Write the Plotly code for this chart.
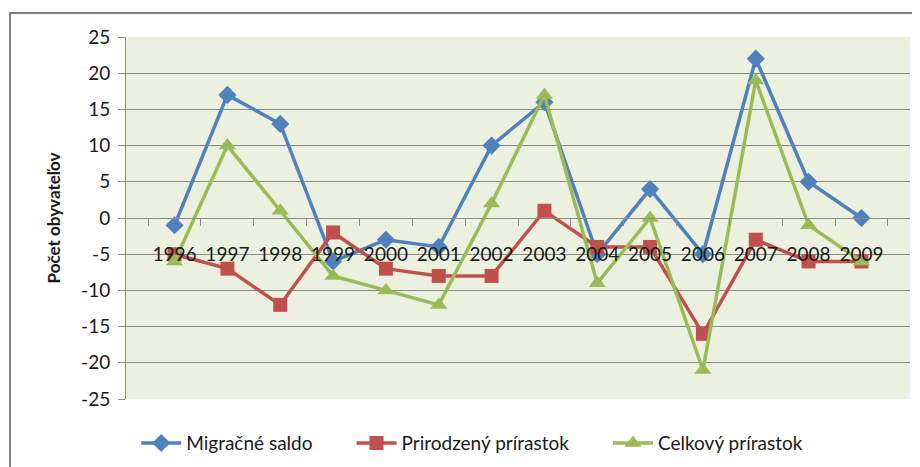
import plotly.graph_objects as go

years = ["1996", "1997", "1998", "1999", "2000", "2001", "2002",
         "2003", "2004", "2005", "2006", "2007", "2008", "2009"]
migracne_saldo = [-1, 17, 13, -6, -3, -4, 10, 16, -5, 4, -5, 22, 5, 0]
prirodzeny_prirastok = [-5, -7, -12, -2, -7, -8, -8, 1, -4, -4, -16, -3, -6, -6]
celkovy_prirastok = [-6, 10, 1, -8, -10, -12, 2, 17, -9, 0, -21, 19, -1, -6]
y_ticks = [-25, -20, -15, -10, -5, 0, 5, 10, 15, 20, 25]
y_tick_labels = ["-25", "-20", "-15", "-10", "-5", "0", "5", "10", "15", "20", "25"]

FONT = "Lato, 'Open Sans', sans-serif"
GRID = "#8c8c8c"
PAD = "\u00a0" * 7  # extra room between legend entries

series = [
    ("Migračné saldo", migracne_saldo, "#4F81BD", "diamond", 14),
    ("Prirodzený prírastok", prirodzeny_prirastok, "#C0504D", "square", 14),
    ("Celkový prírastok", celkovy_prirastok, "#9BBB59", "triangle-up", 15),
]

fig = go.Figure()
for name, values, color, symbol, size in series:
    fig.add_scatter(
        x=years, y=values, name=name + PAD, mode="lines+markers",
        line=dict(color=color, width=3.5),
        marker=dict(symbol=symbol, size=size, color=color),
        cliponaxis=False,
    )

# page body adds an 8px margin, so the figure is 8px smaller each way
fig.update_layout(
    width=912, height=459,
    margin=dict(l=118, r=10, t=29, b=68, autoexpand=False),
    paper_bgcolor="white",
    plot_bgcolor="#EBF1DE",
    font=dict(family=FONT, size=19, color="#1a1a1a"),
    showlegend=True,
    legend=dict(orientation="h", x=0.013, xanchor="left", y=-0.122, yanchor="middle",
                font=dict(size=19), itemwidth=40, tracegroupgap=0,
                bgcolor="rgba(0,0,0,0)"),
)

fig.update_xaxes(
    type="category", anchor="free", position=0.5, automargin=False,
    showgrid=False, showline=True, linecolor=GRID, linewidth=1,
    ticks="outside", tickson="boundaries", ticklen=7, tickcolor=GRID,
    tickangle=0, ticklabelstandoff=19, zeroline=False,
)
fig.update_yaxes(
    range=[-25, 25], tickmode="array", tickvals=y_ticks, ticktext=y_tick_labels,
    automargin=False, showgrid=True, gridcolor=GRID, gridwidth=1,
    zeroline=False, showline=True, linecolor=GRID, linewidth=1,
    ticks="outside", ticklen=7, tickcolor=GRID, ticklabelstandoff=4,
    title=dict(text="<b>Počet obyvateľov</b>", font=dict(size=17), standoff=16),
)

# outer chart-area border (extends past right and bottom edges)
fig.add_shape(type="rect", xref="paper", yref="paper",
              x0=-0.148, x1=1.03, y0=-0.25, y1=1.066,
              line=dict(color="#808080", width=2), layer="below")

fig.write_html("out.html")
